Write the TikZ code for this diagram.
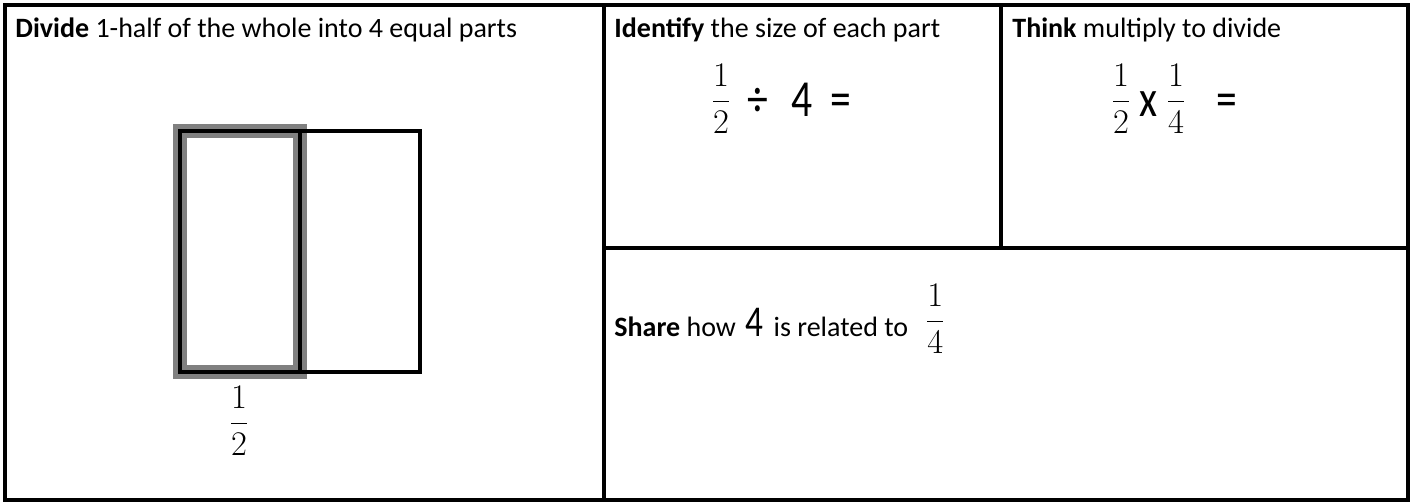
\documentclass[tikz,border=0pt]{standalone}
\usepackage{fontspec}
\setmainfont{Carlito}
\usepackage{amsmath}
\usepackage{graphicx}
\usetikzlibrary{calc}
\definecolor{band}{HTML}{808080}
\newcommand{\narrowglyph}[1]{\scalebox{0.8}[1]{#1}}
\begin{document}
\begin{tikzpicture}[x=0.5pt,y=-0.5pt,
  frame/.style={line width=2pt},
  lbl/.style={anchor=base west, inner sep=0pt, font=\fontsize{14}{17}\selectfont},
  big/.style={anchor=base, inner sep=0pt, font=\fontsize{26}{30}\selectfont},
  fr/.style={anchor=base, inner sep=0pt, font=\fontsize{17}{20}\selectfont}]
\useasboundingbox (0,0) rectangle (1411,502);
% table frame
\draw[frame] (5,5) rectangle (1408,500);
\draw[frame] (604,5) -- (604,500);
\draw[frame] (604,248) -- (1408,248);
\draw[frame] (1001,5) -- (1001,248);
% left cell
\node[lbl] (t1) at (15,38) {\textbf{Divide} 1-half of the whole into 4 equal parts};
\draw[band, line width=7pt] (180,131) rectangle (300,372);
\draw[line width=2.2pt] (180,131) rectangle (420,372);
\draw[line width=2.2pt] (300,131) -- (300,372);
\node[fr] (half) at (239,432) {$\dfrac{1}{2}$};
% identify cell
\node[lbl] (t2) at (614,38) {\textbf{Identify} the size of each part};
\node[fr] (h1) at (721,110) {$\dfrac{1}{2}$};
\node[big] (dv) at (758,117) {\narrowglyph{÷}};
\node[big] (f4) at (802,117) {\narrowglyph{4}};
\node[big] (eq1) at (841,117) {\narrowglyph{=}};
% think cell
\node[lbl] (t3) at (1012,38) {\textbf{Think} multiply to divide};
\node[fr] (h2) at (1121,110) {$\dfrac{1}{2}$};
\node[big] (xx) at (1148,117) {\narrowglyph{x}};
\node[fr] (q2) at (1176,110) {$\dfrac{1}{4}$};
\node[big] (eq2) at (1227,117) {\narrowglyph{=}};
% share cell
\node[lbl] (t4) at (614,336) {\textbf{Share} how{\fontsize{22}{26}\selectfont{} \narrowglyph{4} }is related to};
\node[fr, anchor=base west] (q3) at ($(t4.base east)+(16,-6)$) {$\dfrac{1}{4}$};
\end{tikzpicture}
\end{document}
